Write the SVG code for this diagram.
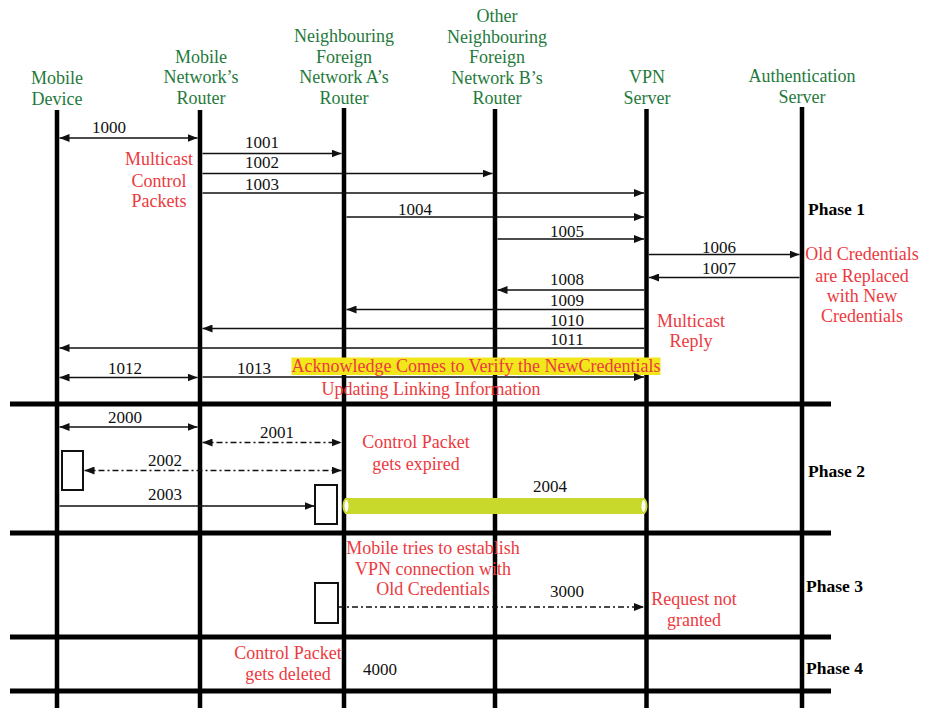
<svg xmlns="http://www.w3.org/2000/svg" width="933" height="708" viewBox="0 0 933 708">
<style>
text{font-family:"Liberation Serif","Times New Roman",serif;font-size:17px}
.hd{fill:#1f7a3c;text-anchor:middle;font-size:18px}
.rd{fill:#ec3a40;text-anchor:middle;font-size:18px}
.nm{fill:#111;text-anchor:middle}
.ph{fill:#000;font-weight:bold;font-size:17.5px}
.life{stroke:#000;stroke-width:4.5}
.sep{stroke:#000;stroke-width:5}
.msg{stroke:#111;stroke-width:1.5;fill:none}
.dd{stroke-dasharray:6 3 2 3}
.box{fill:#fff;stroke:#111;stroke-width:2}
</style>
<defs>
<marker id="ah" viewBox="0 0 10 8" refX="10" refY="4" markerWidth="10" markerHeight="8" markerUnits="userSpaceOnUse" orient="auto-start-reverse"><path d="M0,0 L10,4 L0,8z" fill="#111"/></marker>
</defs>
<rect width="933" height="708" fill="#fff"/>

<g id="sep">
<line class="sep" x1="10" y1="404" x2="831" y2="404"/>
<line class="sep" x1="10" y1="533" x2="831" y2="533"/>
<line class="sep" x1="10" y1="637" x2="831" y2="637"/>
<line class="sep" x1="10" y1="691" x2="831" y2="691"/>
</g>

<g id="mobile-device">
<text class="hd" x="57" y="84">Mobile</text>
<text class="hd" x="57" y="105">Device</text>
<line class="life" x1="57" y1="110" x2="57" y2="708"/>
</g>
<g id="mobile-router">
<text class="hd" x="201" y="63">Mobile</text>
<text class="hd" x="201" y="83">Network’s</text>
<text class="hd" x="201" y="104">Router</text>
<line class="life" x1="200" y1="110" x2="200" y2="708"/>
</g>
<g id="router-a">
<text class="hd" x="344" y="42">Neighbouring</text>
<text class="hd" x="344" y="63">Foreign</text>
<text class="hd" x="344" y="83">Network A’s</text>
<text class="hd" x="344" y="104">Router</text>
<line class="life" x1="344" y1="108" x2="344" y2="708"/>
</g>
<g id="router-b">
<text class="hd" x="497" y="22">Other</text>
<text class="hd" x="497" y="43">Neighbouring</text>
<text class="hd" x="497" y="63">Foreign</text>
<text class="hd" x="497" y="84">Network B’s</text>
<text class="hd" x="497" y="104">Router</text>
<line class="life" x1="495" y1="109" x2="495" y2="708"/>
</g>
<g id="vpn-server">
<text class="hd" x="647" y="83">VPN</text>
<text class="hd" x="647" y="104">Server</text>
<line class="life" x1="646.5" y1="109" x2="646.5" y2="708"/>
</g>
<g id="auth-server">
<text class="hd" x="802" y="82">Authentication</text>
<text class="hd" x="802" y="103">Server</text>
<line class="life" x1="802" y1="107" x2="802" y2="708"/>
</g>

<g id="highlight">
<rect x="291.5" y="357.5" width="369" height="17.5" fill="#f2e71b"/>
<text class="rd" x="476" y="372">Acknowledge Comes to Verify the NewCredentials</text>
<text class="rd" x="431" y="395">Updating Linking Information</text>
</g>

<g id="bar-2004">
<rect x="345" y="498" width="300" height="16" fill="#c9d92b"/>
<ellipse cx="346.5" cy="506" rx="3" ry="7" fill="#fff" stroke="#c9d92b" stroke-width="2"/>
<ellipse cx="643.5" cy="506" rx="3" ry="7" fill="#fff" stroke="#c9d92b" stroke-width="2"/>
</g>

<g id="boxes">
<rect class="box" x="62" y="451" width="21" height="39"/>
<rect class="box" x="315" y="485" width="22" height="39"/>
<rect class="box" x="315" y="583" width="23" height="40"/>
</g>

<g id="connectors">
<line class="msg" x1="59.5" y1="138" x2="197.5" y2="138" marker-start="url(#ah)" marker-end="url(#ah)"/>
<line class="msg" x1="202.5" y1="153.5" x2="341.5" y2="153.5" marker-end="url(#ah)"/>
<line class="msg" x1="202.5" y1="173.5" x2="492.5" y2="173.5" marker-end="url(#ah)"/>
<line class="msg" x1="202.5" y1="193" x2="644" y2="193" marker-end="url(#ah)"/>
<line class="msg" x1="346.5" y1="217" x2="644" y2="217" marker-end="url(#ah)"/>
<line class="msg" x1="497.5" y1="239" x2="644" y2="239" marker-end="url(#ah)"/>
<line class="msg" x1="649" y1="254.5" x2="799.5" y2="254.5" marker-end="url(#ah)"/>
<line class="msg" x1="799.5" y1="277.5" x2="649" y2="277.5" marker-end="url(#ah)"/>
<line class="msg" x1="644" y1="290" x2="497.5" y2="290" marker-end="url(#ah)"/>
<line class="msg" x1="644" y1="309.5" x2="346.5" y2="309.5" marker-end="url(#ah)"/>
<line class="msg" x1="644" y1="328.5" x2="202.5" y2="328.5" marker-end="url(#ah)"/>
<line class="msg" x1="644" y1="348" x2="59.5" y2="348" marker-end="url(#ah)"/>
<line class="msg" x1="59.5" y1="377.5" x2="197.5" y2="377.5" marker-start="url(#ah)" marker-end="url(#ah)"/>
<line class="msg" x1="202.5" y1="377" x2="644" y2="377" marker-end="url(#ah)"/>
<line class="msg" x1="59.5" y1="427" x2="197.5" y2="427" marker-start="url(#ah)" marker-end="url(#ah)"/>
<line class="msg dd" x1="202.5" y1="442.5" x2="341.5" y2="442.5" marker-start="url(#ah)" marker-end="url(#ah)"/>
<line class="msg dd" x1="84.5" y1="470.5" x2="341.5" y2="470.5" marker-start="url(#ah)" marker-end="url(#ah)"/>
<line class="msg" x1="59.5" y1="506" x2="314.5" y2="506" marker-end="url(#ah)"/>
<line class="msg dd" x1="338" y1="607" x2="644" y2="607" marker-end="url(#ah)"/>
</g>

<g id="labels">
<text class="nm" x="109" y="133">1000</text>
<text class="nm" x="262" y="148">1001</text>
<text class="nm" x="262" y="168">1002</text>
<text class="nm" x="262" y="190">1003</text>
<text class="nm" x="415" y="215">1004</text>
<text class="nm" x="567" y="237">1005</text>
<text class="nm" x="719" y="253">1006</text>
<text class="nm" x="719" y="274">1007</text>
<text class="nm" x="567" y="285">1008</text>
<text class="nm" x="567" y="306">1009</text>
<text class="nm" x="567" y="326">1010</text>
<text class="nm" x="567" y="345">1011</text>
<text class="nm" x="125" y="374">1012</text>
<text class="nm" x="254" y="374">1013</text>
<text class="nm" x="125" y="423">2000</text>
<text class="nm" x="277" y="438">2001</text>
<text class="nm" x="165" y="466">2002</text>
<text class="nm" x="165" y="500">2003</text>
<text class="nm" x="550" y="492">2004</text>
<text class="nm" x="567" y="597">3000</text>
<text class="nm" x="380" y="675">4000</text>

<text class="rd" x="159" y="165">Multicast</text>
<text class="rd" x="159" y="187">Control</text>
<text class="rd" x="159" y="207">Packets</text>
<text class="rd" x="691" y="327">Multicast</text>
<text class="rd" x="691" y="347">Reply</text>
<text class="rd" x="862" y="260">Old Credentials</text>
<text class="rd" x="862" y="282">are Replaced</text>
<text class="rd" x="862" y="302">with New</text>
<text class="rd" x="862" y="322">Credentials</text>
<text class="rd" x="416" y="448">Control Packet</text>
<text class="rd" x="416" y="470">gets expired</text>
<text class="rd" x="433" y="554">Mobile tries to establish</text>
<text class="rd" x="433" y="575">VPN connection with</text>
<text class="rd" x="433" y="595">Old Credentials</text>
<text class="rd" x="694" y="605">Request not</text>
<text class="rd" x="694" y="626">granted</text>
<text class="rd" x="288" y="659">Control Packet</text>
<text class="rd" x="288" y="680">gets deleted</text>

<text class="ph" x="808" y="215">Phase 1</text>
<text class="ph" x="808" y="477">Phase 2</text>
<text class="ph" x="806" y="592">Phase 3</text>
<text class="ph" x="806" y="674">Phase 4</text>
</g>
</svg>
